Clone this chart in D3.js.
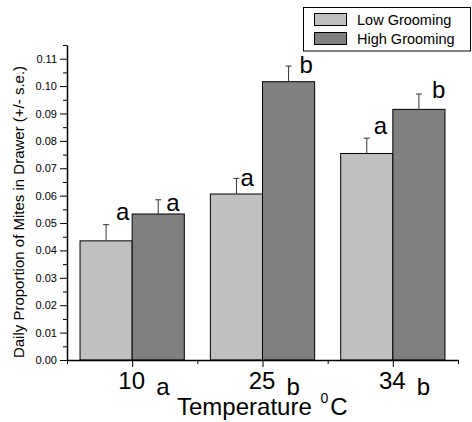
<!DOCTYPE html>
<html>
<head>
<meta charset="utf-8">
<script src="https://cdn.jsdelivr.net/npm/d3@7"></script>
<style>
  body { margin: 0; background: #fff; }
  svg { font-family: "Liberation Sans", Arial, sans-serif; }
  .axis path, .axis line { stroke: #000; }
</style>
</head>
<body>
<div id="chart"></div>
<script>
// data
var temps = ["10", "25", "34"];
var tempLetters = ["a", "b", "b"];
var lowMean = [0.0435, 0.0606, 0.0754];
var lowSE = [0.0059, 0.0057, 0.0056];
var lowLetters = ["a", "a", "a"];
var highMean = [0.0533, 0.1016, 0.0915];
var highSE = [0.0052, 0.0057, 0.0056];
var highLetters = ["a", "b", "b"];
var seriesNames = ["Low Grooming", "High Grooming"];
var yTickValues = [0, 0.01, 0.02, 0.03, 0.04, 0.05, 0.06, 0.07, 0.08, 0.09, 0.10, 0.11];

// letters were placed by hand in the original, small nudges from (bar centre, error cap)
var letterShift = [[10, -5], [8, 11], [4, 8], [11, 7], [7, -4], [13, 4]];

var W = 472, H = 422;
var colors = ["#c0c0c0", "#808080"];
var barW = 0.4;

var svg = d3.select("#chart").append("svg")
  .attr("width", W).attr("height", H);

var x = d3.scaleLinear().domain([0.5, 3.5]).range([67, 458]);
var y = d3.scaleLinear().domain([0, 0.115]).range([360, 45]);

// build bar rows from the arrays
var bars = [];
temps.forEach(function (t, i) {
  bars.push({ pos: i + 1, s: 0, v: lowMean[i], se: lowSE[i], letter: lowLetters[i] });
  bars.push({ pos: i + 1, s: 1, v: highMean[i], se: highSE[i], letter: highLetters[i] });
});

var g = svg.append("g");

g.selectAll("rect.bar")
  .data(bars)
  .enter()
  .append("rect")
  .attr("class", "bar")
  .attr("x", function (d) { return d.s == 0 ? x(d.pos - barW) : x(d.pos); })
  .attr("width", function (d) { return x(d.pos + barW) - x(d.pos); })
  .attr("y", function (d) { return y(d.v); })
  .attr("height", function (d) { return y(0) - y(d.v); })
  .attr("fill", function (d) { return colors[d.s]; })
  .attr("stroke", "#000")
  .attr("stroke-width", 1);

function cx(d) {
  return d.s == 0 ? x(d.pos - barW / 2) : x(d.pos + barW / 2);
}

// upper error bars only
var err = g.selectAll("g.err").data(bars).enter().append("g").attr("class", "err");
err.append("line")
  .attr("x1", cx).attr("x2", cx)
  .attr("y1", function (d) { return y(d.v); })
  .attr("y2", function (d) { return y(d.v + d.se); })
  .attr("stroke", "#333").attr("stroke-width", 1);
err.append("line")
  .attr("x1", function (d) { return cx(d) - 3; })
  .attr("x2", function (d) { return cx(d) + 3; })
  .attr("y1", function (d) { return y(d.v + d.se); })
  .attr("y2", function (d) { return y(d.v + d.se); })
  .attr("stroke", "#333").attr("stroke-width", 1);

g.selectAll("text.letter")
  .data(bars)
  .enter()
  .append("text")
  .attr("class", "letter")
  .attr("x", function (d, i) { return cx(d) + letterShift[i][0]; })
  .attr("y", function (d, i) { return y(d.v + d.se) + letterShift[i][1]; })
  .attr("font-size", 24)
  .text(function (d) { return d.letter; });

// y axis
var yMinor = d3.range(0.005, 0.116, 0.01);
svg.append("g")
  .attr("class", "axis")
  .attr("transform", "translate(67,0)")
  .call(d3.axisLeft(y).tickValues(yMinor).tickSize(4).tickFormat(""))
  .call(function (a) { a.select(".domain").remove(); });
var yAxis = svg.append("g")
  .attr("class", "axis")
  .attr("transform", "translate(67,0)")
  .call(d3.axisLeft(y).tickValues(yTickValues).tickSize(7).tickSizeOuter(0).tickPadding(3)
    .tickFormat(d3.format(".2f")));
yAxis.select(".domain").attr("stroke-width", 1.5);
yAxis.selectAll("text").attr("font-size", 11).attr("font-family", "Liberation Sans, Arial, sans-serif").attr("fill", "#000");

// x axis
svg.append("g")
  .attr("class", "axis")
  .attr("transform", "translate(0,360)")
  .call(d3.axisBottom(x).tickValues([0.5, 1.5, 2.5, 3.5]).tickSize(4).tickFormat(""))
  .call(function (a) { a.select(".domain").remove(); });
var xAxis = svg.append("g")
  .attr("class", "axis")
  .attr("transform", "translate(0,360)")
  .call(d3.axisBottom(x).tickValues([1, 2, 3]).tickSize(7).tickSizeOuter(0).tickPadding(5)
    .tickFormat(function (d) { return temps[d - 1]; }));
xAxis.select(".domain").attr("stroke-width", 1.5);
xAxis.selectAll("text")
  .attr("font-size", 24)
  .attr("font-family", "Liberation Sans, Arial, sans-serif")
  .attr("fill", "#000")
  .attr("dx", -1);

// letters under each temperature
svg.selectAll("text.tlet")
  .data(tempLetters)
  .enter()
  .append("text")
  .attr("class", "tlet")
  .attr("x", function (d, i) { return x(i + 1) + 24; })
  .attr("y", 395)
  .attr("font-size", 24)
  .text(function (d) { return d; });

// axis titles
var xt = svg.append("text")
  .attr("x", 177).attr("y", 415)
  .attr("font-size", 24);
xt.append("tspan").text("Temperature ");
xt.append("tspan").attr("font-size", 14).attr("dy", -12).attr("dx", 2).text("0");
xt.append("tspan").attr("dy", 12).attr("dx", 2).text("C");

svg.append("text")
  .attr("transform", "translate(24,212) rotate(-90)")
  .attr("text-anchor", "middle")
  .attr("font-size", 15)
  .text("Daily Proportion of Mites in Drawer (+/- s.e.)");

// legend
var leg = svg.append("g");
leg.append("rect")
  .attr("x", 303.5).attr("y", 7.5).attr("width", 167).attr("height", 43.5)
  .attr("fill", "#fff").attr("stroke", "#000").attr("stroke-width", 1);
var li = leg.selectAll("g.li").data(seriesNames).enter().append("g").attr("class", "li");
li.append("rect")
  .attr("x", 314.5)
  .attr("y", function (d, i) { return 13.5 + i * 19; })
  .attr("width", 32).attr("height", 12)
  .attr("fill", function (d, i) { return colors[i]; })
  .attr("stroke", "#000");
li.append("text")
  .attr("x", 357)
  .attr("y", function (d, i) { return 25 + i * 19; })
  .attr("font-size", 14.5)
  .text(function (d) { return d; });
</script>
</body>
</html>
